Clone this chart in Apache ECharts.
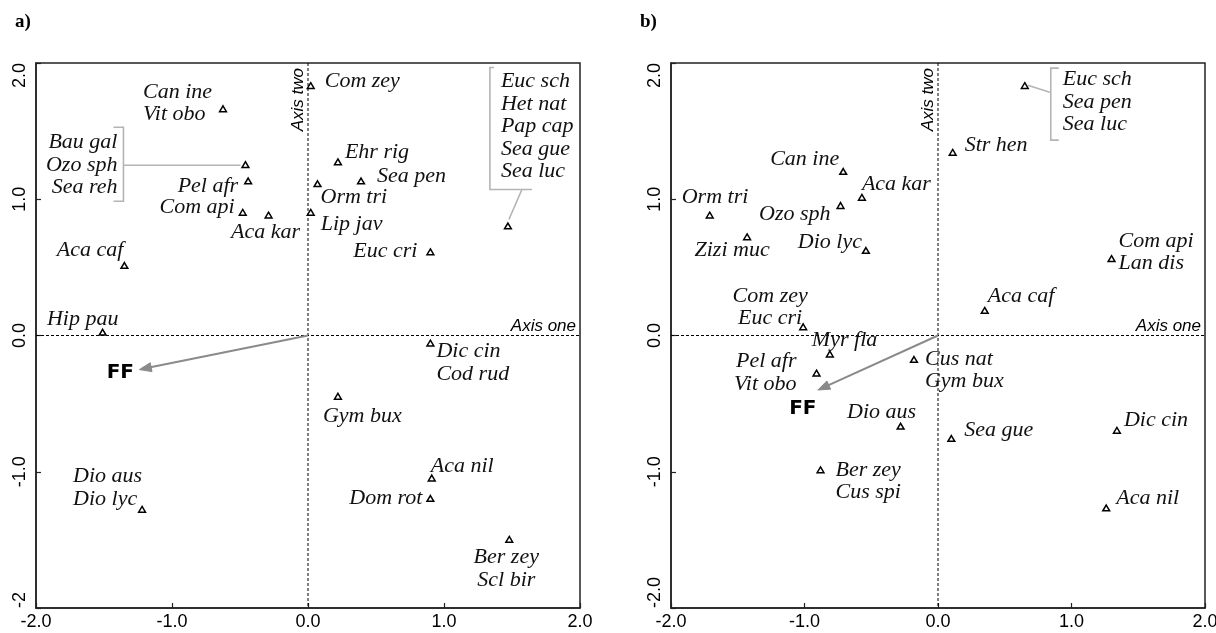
<!DOCTYPE html>
<html><head><meta charset="utf-8">
<script src="https://cdn.jsdelivr.net/npm/echarts@6/dist/echarts.min.js"></script>
<style>html,body{margin:0;padding:0;background:#fff}#c{width:1216px;height:633px}</style>
</head><body><div id="c"></div>
<script>
// ---------- data ----------
const tickValues = [-2, -1, 0, 1, 2];
const xTickLabels = ['-2.0', '-1.0', '0.0', '1.0', '2.0'];
const aYTickLabels = ['-2', '-1.0', '0.0', '1.0', '2.0'];
const bYTickLabels = ['-2.0', '-1.0', '0.0', '1.0', '2.0'];

const aNames = ['Can ine\nVit obo', 'Bau gal\nOzo sph\nSea reh', 'Pel afr', 'Com api', 'Aca kar',
  'Aca caf', 'Hip pau', 'Com zey', 'Ehr rig', 'Sea pen', 'Orm tri', 'Lip jav', 'Euc cri',
  'Euc sch\nHet nat\nPap cap\nSea gue\nSea luc', 'Dic cin\nCod rud', 'Gym bux', 'Aca nil',
  'Dom rot', 'Ber zey\nScl bir', 'Dio aus\nDio lyc'];
const aX = [-0.625, -0.46, -0.44, -0.48, -0.29, -1.35, -1.51, 0.02, 0.22, 0.39, 0.07, 0.02, 0.90,
  1.47, 0.90, 0.22, 0.91, 0.90, 1.48, -1.22];
const aY = [1.66, 1.25, 1.13, 0.90, 0.88, 0.51, 0.02, 1.83, 1.27, 1.13, 1.11, 0.90, 0.61,
  0.80, -0.06, -0.45, -1.05, -1.20, -1.50, -1.28];
const aFF = [-1.24, -0.25];

const bNames = ['Euc sch\nSea pen\nSea luc', 'Str hen', 'Can ine', 'Aca kar', 'Ozo sph', 'Dio lyc',
  'Orm tri', 'Zizi muc', 'Com zey\nEuc cri', 'Aca caf', 'Com api\nLan dis', 'Myr fla',
  'Pel afr\nVit obo', 'Cus nat\nGym bux', 'Dio aus', 'Sea gue', 'Dic cin', 'Ber zey\nCus spi', 'Aca nil'];
const bX = [0.65, 0.11, -0.71, -0.57, -0.73, -0.54, -1.71, -1.43, -1.01, 0.35, 1.30, -0.81,
  -0.91, -0.18, -0.28, 0.10, 1.34, -0.88, 1.26];
const bY = [1.83, 1.34, 1.20, 1.01, 0.95, 0.62, 0.88, 0.72, 0.06, 0.18, 0.56, -0.14,
  -0.28, -0.18, -0.67, -0.76, -0.70, -0.99, -1.27];
const bFF = [-0.90, -0.40];

// ---------- label placement (pixel offsets from each point) ----------
const aLabelPos = [['left', -80, -6], ['right', -128, 0], ['right', -10, 5], ['right', -8, -6],
  ['center', -3, 17], ['right', -1, -16], ['center', -20, -14], ['left', 14, -5], ['left', 7, -10],
  ['left', 16, -5], ['left', 3, 13], ['left', 10, 11], ['right', -13, -1], ['left', -7, -100],
  ['left', 6, 19], ['left', -15, 19], ['left', -1, -12], ['right', -8, -1], ['center', -3, 29],
  ['left', -69, -22]];
const bLabelPos = [['left', 38, 16], ['left', 12, -8], ['right', -4, -13], ['left', 0, -14],
  ['right', -10, 8], ['right', -4, -9], ['left', -28, -18], ['center', -15, 13], ['center', -33, -20],
  ['left', 3, -15], ['left', 7, -7], ['left', -18, -14], ['right', -20, -1], ['left', 11, 10],
  ['center', -19, -15], ['left', 13, -9], ['left', 7, -11], ['left', 15, 11], ['left', 10, -10]];
const aBrackets = [
  {item: 1, paths: [[[-132, -38], [-122, -38], [-122, 36], [-132, 36]], [[-122, 0], [-5, 0]]]},
  {item: 13, paths: [[[-14, -159], [-18, -159], [-18, -37], [24, -37]], [[14, -37], [1, -7]]]}
];
const bBrackets = [
  {item: 0, paths: [[[34, -18], [26, -18], [26, 54], [34, 54]], [[3, -1], [25, 6]]]}
];
const aFFOff = [-19, 3];
const bFFOff = [-15, 19];

// ---------- rendering ----------
const SERIF = '"Liberation Serif", "Times New Roman", serif';
const SANS = '"Liberation Sans", Arial, sans-serif';

function pointSeries(g, names, xs, ys, pos, brackets) {
  return {
    type: 'custom', xAxisIndex: g, yAxisIndex: g, clip: false, silent: true, z: 5,
    data: xs.map((x, i) => [x, ys[i], i]),
    renderItem: (params, api) => {
      const i = api.value(2);
      const p = api.coord([api.value(0), api.value(1)]);
      const [al, dx, dy] = pos[i];
      const hw = 3.4, h = 5.8;
      const kids = [];
      brackets.filter(b => b.item === i).forEach(b => {
        b.paths.forEach(path => {
          kids.push({type: 'polyline', shape: {points: path.map(q => [p[0] + q[0], p[1] + q[1]])},
            style: {stroke: '#b4b4b4', lineWidth: 1.6, fill: null}});
        });
      });
      kids.push({type: 'polygon', shape: {points: [[p[0], p[1] - h * 0.6], [p[0] + hw, p[1] + h * 0.4], [p[0] - hw, p[1] + h * 0.4]]},
        style: {fill: '#fff', stroke: '#000', lineWidth: 1.5}});
      kids.push({type: 'text', style: {x: p[0] + dx, y: p[1] + dy, text: names[i], align: al,
        verticalAlign: 'middle', fontFamily: SERIF, fontStyle: 'italic', fontSize: 22, lineHeight: 22.5, fill: '#111'}});
      return {type: 'group', children: kids};
    }
  };
}

function frameSeries(g, ff, ffOff) {
  return {
    type: 'custom', xAxisIndex: g, yAxisIndex: g, clip: false, silent: true, z: 3,
    data: [[ff[0], ff[1]]],
    renderItem: (params, api) => {
      const o = api.coord([0, 0]);
      const top = api.coord([0, 2])[1], bottom = api.coord([0, -2])[1];
      const left = api.coord([-2, 0])[0], right = api.coord([2, 0])[0];
      const tip = api.coord([api.value(0), api.value(1)]);
      const ang = Math.atan2(tip[1] - o[1], tip[0] - o[0]);
      const L = 12, W = 4.5;
      const base = [tip[0] - L * Math.cos(ang), tip[1] - L * Math.sin(ang)];
      const nx = -Math.sin(ang), ny = Math.cos(ang);
      const dash = {stroke: '#000', lineWidth: 1, lineDash: [3, 2]};
      return {type: 'group', children: [
        {type: 'line', shape: {x1: left, y1: o[1], x2: right, y2: o[1]}, style: dash},
        {type: 'line', shape: {x1: o[0], y1: top, x2: o[0], y2: bottom}, style: dash},
        {type: 'text', style: {x: right - 4, y: o[1] - 1, text: 'Axis one', align: 'right', verticalAlign: 'bottom',
          fontFamily: SANS, fontStyle: 'italic', fontSize: 17, fill: '#000'}},
        {type: 'text', x: o[0] - 1, y: top + 5, rotation: Math.PI / 2, style: {x: 0, y: 0, text: 'Axis two',
          align: 'right', verticalAlign: 'bottom', fontFamily: SANS, fontStyle: 'italic', fontSize: 17, fill: '#000'}},
        {type: 'line', shape: {x1: o[0], y1: o[1], x2: base[0] + 2 * Math.cos(ang), y2: base[1] + 2 * Math.sin(ang)},
          style: {stroke: '#8a8a8a', lineWidth: 2}},
        {type: 'polygon', shape: {points: [tip, [base[0] + nx * W, base[1] + ny * W], [base[0] - nx * W, base[1] - ny * W]]},
          style: {fill: '#8a8a8a', stroke: '#8a8a8a', lineWidth: 1}},
        {type: 'text', style: {x: tip[0] + ffOff[0], y: tip[1] + ffOff[1], text: 'FF', align: 'center', verticalAlign: 'middle',
          fontFamily: '"DejaVu Sans", sans-serif', fontWeight: 'bold', fontSize: 20, fill: '#000'}}
      ]};
    }
  };
}

function xAxisDef(g) {
  return {gridIndex: g, type: 'value', min: -2, max: 2, interval: 1,
    axisLine: {show: true, onZero: false, lineStyle: {color: '#222', width: 1.5}},
    axisTick: {show: true, inside: true, length: 5, lineStyle: {color: '#222', width: 1.2}},
    axisLabel: {margin: 5, color: '#000', fontFamily: SANS, fontSize: 18,
      formatter: v => xTickLabels[tickValues.indexOf(v)]},
    splitLine: {show: false}};
}
function yAxisDef(g, labels) {
  return {gridIndex: g, type: 'value', min: -2, max: 2, interval: 1,
    axisLine: {show: true, onZero: false, lineStyle: {color: '#222', width: 1.5}},
    axisTick: {show: true, inside: true, length: 5, lineStyle: {color: '#222', width: 1.2}},
    axisLabel: {margin: 7, rotate: 90, color: '#000', fontFamily: SANS, fontSize: 18,
      alignMinLabel: 'left', alignMaxLabel: 'right',
      formatter: v => labels[tickValues.indexOf(v)]},
    splitLine: {show: false}};
}

const chart = echarts.init(document.getElementById('c'), null, {renderer: 'canvas'});
chart.setOption({
  animation: false,
  backgroundColor: '#fff',
  title: [
    {text: 'a)', left: 10, top: 8, textStyle: {fontFamily: SERIF, fontWeight: 'bold', fontSize: 19, color: '#000'}},
    {text: 'b)', left: 635, top: 8, textStyle: {fontFamily: SERIF, fontWeight: 'bold', fontSize: 19, color: '#000'}}
  ],
  grid: [
    {left: 36, top: 63, width: 544, height: 545, show: true, borderColor: '#222', borderWidth: 1.5, backgroundColor: 'transparent', outerBoundsMode: 'none', containLabel: false},
    {left: 671, top: 63, width: 534, height: 545, show: true, borderColor: '#222', borderWidth: 1.5, backgroundColor: 'transparent', outerBoundsMode: 'none', containLabel: false}
  ],
  xAxis: [xAxisDef(0), xAxisDef(1)],
  yAxis: [yAxisDef(0, aYTickLabels), yAxisDef(1, bYTickLabels)],
  series: [
    frameSeries(0, aFF, aFFOff),
    pointSeries(0, aNames, aX, aY, aLabelPos, aBrackets),
    frameSeries(1, bFF, bFFOff),
    pointSeries(1, bNames, bX, bY, bLabelPos, bBrackets)
  ]
});
</script>
</body></html>
